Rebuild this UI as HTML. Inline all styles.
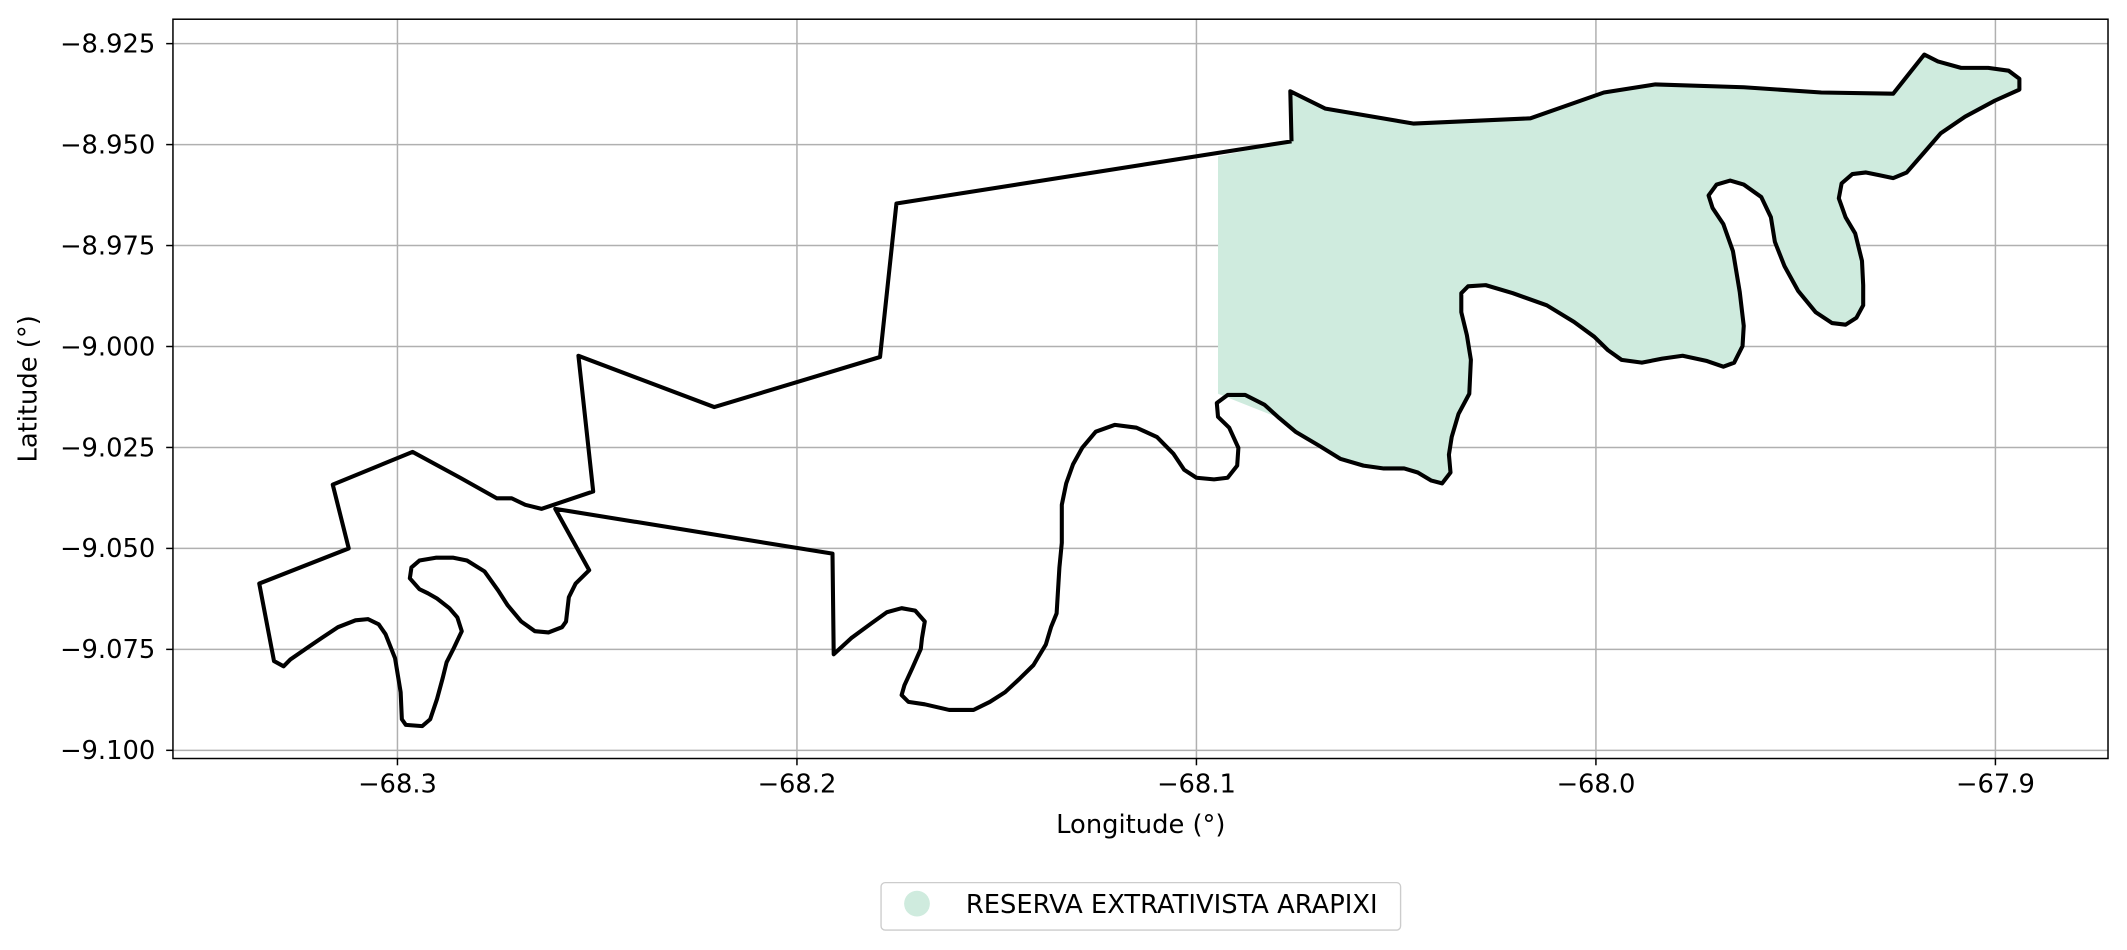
<!DOCTYPE html>
<html><head><meta charset="utf-8"><style>
html,body{margin:0;padding:0;background:#fff;}
svg{display:block;font-family:"DejaVu Sans","Liberation Sans",sans-serif;}
</style></head><body>
<svg id="chart" width="2127" height="950" viewBox="0 0 1568 700" xmlns="http://www.w3.org/2000/svg"></svg>
<script>
const lons=[-68.0762,-68.0765,-68.0677,-68.0456,-68.0164,-67.998,-67.9851,-67.963,-67.9436,-67.9256,-67.9178,-67.9144,-67.9086,-67.9018,-67.8967,-67.894,-67.894,-67.9001,-67.9076,-67.9137,-67.9178,-67.9222,-67.9256,-67.929,-67.9324,-67.9358,-67.9385,-67.9392,-67.9375,-67.9351,-67.9334,-67.9331,-67.9331,-67.9348,-67.9375,-67.9409,-67.945,-67.9494,-67.9528,-67.9552,-67.9562,-67.9586,-67.963,-67.9664,-67.9698,-67.9718,-67.9708,-67.9681,-67.9657,-67.964,-67.963,-67.9633,-67.9654,-67.9681,-67.9722,-67.9783,-67.9834,-67.9885,-67.9936,-67.997,-68.0004,-68.0055,-68.0123,-68.0208,-68.0276,-68.032,-68.0337,-68.0337,-68.0323,-68.0313,-68.0317,-68.0344,-68.0361,-68.0368,-68.0364,-68.0385,-68.0412,-68.0446,-68.048,-68.0531,-68.0582,-68.064,-68.0694,-68.0752,-68.0793,-68.083,-68.0878,-68.0922,-68.0949,-68.0946,-68.0918,-68.0895,-68.0898,-68.0922,-68.0956,-68.1,-68.1031,-68.1058,-68.1099,-68.115,-68.1204,-68.1252,-68.1286,-68.1309,-68.1326,-68.1337,-68.1337,-68.1343,-68.135,-68.1364,-68.1377,-68.1408,-68.1442,-68.1479,-68.1517,-68.1558,-68.1619,-68.168,-68.1721,-68.1738,-68.1731,-68.1711,-68.169,-68.1687,-68.168,-68.1704,-68.1738,-68.1775,-68.1813,-68.1864,-68.1908,-68.1911,-68.2605,-68.252,-68.2554,-68.2571,-68.2578,-68.2588,-68.2622,-68.2656,-68.269,-68.2724,-68.2748,-68.2782,-68.2826,-68.286,-68.2904,-68.2945,-68.2965,-68.2969,-68.2945,-68.2924,-68.2901,-68.287,-68.285,-68.2839,-68.286,-68.2877,-68.2887,-68.2901,-68.2918,-68.2938,-68.2979,-68.2989,-68.2992,-68.3006,-68.303,-68.3047,-68.3074,-68.3105,-68.3149,-68.319,-68.3224,-68.3268,-68.3285,-68.3309,-68.3346,-68.3122,-68.3162,-68.2962,-68.2843,-68.2751,-68.2714,-68.268,-68.2639,-68.251,-68.2547,-68.2207,-68.1792,-68.1751,-68.0762];
const lats=[-8.9492,-8.9368,-8.9411,-8.9448,-8.9435,-8.9371,-8.9351,-8.9358,-8.9371,-8.9374,-8.9277,-8.9294,-8.931,-8.931,-8.9317,-8.9337,-8.9364,-8.9391,-8.9431,-8.9472,-8.9519,-8.9569,-8.9583,-8.9576,-8.9569,-8.9573,-8.9596,-8.9633,-8.968,-8.972,-8.9788,-8.9848,-8.9898,-8.9929,-8.9946,-8.9942,-8.9915,-8.9862,-8.9801,-8.9741,-8.968,-8.963,-8.9599,-8.9589,-8.9599,-8.9626,-8.9657,-8.9697,-8.9764,-8.9865,-8.9949,-8.9999,-9.004,-9.005,-9.0036,-9.0023,-9.003,-9.004,-9.0033,-9.0009,-8.9976,-8.9939,-8.9898,-8.9868,-8.9848,-8.9851,-8.9868,-8.9915,-8.9972,-9.0033,-9.0117,-9.0167,-9.0224,-9.0268,-9.0312,-9.0339,-9.0332,-9.0312,-9.0302,-9.0302,-9.0295,-9.0278,-9.0245,-9.0211,-9.0177,-9.0144,-9.012,-9.012,-9.014,-9.0174,-9.0201,-9.0251,-9.0295,-9.0325,-9.0329,-9.0325,-9.0305,-9.0265,-9.0224,-9.0201,-9.0194,-9.0211,-9.0251,-9.0292,-9.0339,-9.0392,-9.0486,-9.0547,-9.0661,-9.0695,-9.0738,-9.0789,-9.0822,-9.0856,-9.088,-9.09,-9.09,-9.0886,-9.088,-9.0863,-9.0839,-9.0796,-9.0749,-9.0722,-9.0681,-9.0654,-9.0648,-9.0658,-9.0685,-9.0722,-9.0762,-9.0513,-9.0402,-9.0554,-9.0587,-9.0621,-9.0681,-9.0695,-9.0708,-9.0705,-9.0681,-9.0641,-9.0604,-9.0557,-9.053,-9.0523,-9.0523,-9.053,-9.0547,-9.0574,-9.0601,-9.0611,-9.0624,-9.0648,-9.0671,-9.0705,-9.0749,-9.0782,-9.0822,-9.0873,-9.0923,-9.094,-9.0937,-9.0923,-9.0856,-9.0772,-9.0712,-9.0688,-9.0675,-9.0678,-9.0695,-9.0722,-9.0745,-9.0775,-9.0792,-9.0779,-9.0587,-9.05,-9.0342,-9.0261,-9.0325,-9.0376,-9.0376,-9.0392,-9.0402,-9.0359,-9.0023,-9.015,-9.0026,-8.9646,-8.9492];
const fillCount=85;
const fillExtraLon=[-68.0946,-68.0946];
const fillExtraLat=[-9.0117,-8.9529];
const xTicks=[-68.3,-68.2,-68.1,-68.0,-67.9];
const xTickLabels=["−68.3","−68.2","−68.1","−68.0","−67.9"];
const yTicks=[-8.925,-8.95,-8.975,-9.0,-9.025,-9.05,-9.075,-9.1];
const yTickLabels=["−8.925","−8.950","−8.975","−9.000","−9.025","−9.050","−9.075","−9.100"];

const L=127.5,R=1554,T=14,B=559;
const FS=19;
function xs(v){return 882+(v+68.1)*2945;}
function ys(v){return 32+(-8.925-v)*2977;}
const NS="http://www.w3.org/2000/svg";
const svg=document.getElementById('chart');
function mk(tag,attrs,parent){const e=document.createElementNS(NS,tag);for(const k in attrs)e.setAttribute(k,attrs[k]);(parent||svg).appendChild(e);return e;}

const grid=mk('g',{});


xTicks.forEach((t,i)=>{
  const x=xs(t);
  const gl=mk('line',{x1:x,x2:x,y1:T,y2:B,stroke:'#b0b0b0','stroke-width':1.1},grid);
  
  
  mk('line',{x1:x,x2:x,y1:B,y2:B+5,stroke:'#000','stroke-width':1.1});
  const tx=mk('text',{x:x,y:B+25,'font-size':FS,'text-anchor':'middle',fill:'#000'});
  tx.textContent=xTickLabels[i];
  
  
});
yTicks.forEach((t,i)=>{
  const y=ys(t);
  const gl=mk('line',{x1:L,x2:R,y1:y,y2:y,stroke:'#b0b0b0','stroke-width':1.1},grid);
  
  
  mk('line',{x1:L-5,x2:L,y1:y,y2:y,stroke:'#000','stroke-width':1.1});
  const tx=mk('text',{x:L-13,y:y+6.5,'font-size':FS,'text-anchor':'end',fill:'#000'});
  tx.textContent=yTickLabels[i];
  
  
});

let fp=[];
for(let i=0;i<fillCount;i++)fp.push(xs(lons[i])+','+ys(lats[i]));
fillExtraLon.forEach((v,i)=>fp.push(xs(v)+','+ys(fillExtraLat[i])));
const fill=mk('polygon',{points:fp.join(' '),fill:'#cfebde',stroke:'none'});



const op=lons.map((v,i)=>xs(v)+','+ys(lats[i])).join(' ');
const outline=mk('polyline',{points:op,fill:'none',stroke:'#000','stroke-width':3,'stroke-linejoin':'round'});



const frame=mk('rect',{x:L,y:T,width:R-L,height:B-T,fill:'none',stroke:'#000','stroke-width':1.1});



const xt=mk('text',{x:841,y:614,'font-size':FS,'text-anchor':'middle'});
xt.textContent='Longitude (°)';


const yt=mk('text',{x:0,y:0,'font-size':FS,'text-anchor':'middle',transform:'translate(27,'+((T+B)/2)+') rotate(-90)'});
yt.textContent='Latitude (°)';



const lg=mk('g',{});


mk('rect',{x:649.5,y:650.5,width:383,height:35,rx:3,fill:'#fff',stroke:'#cccccc','stroke-width':1},lg);
const lm=mk('circle',{cx:676,cy:666,r:9.5,fill:'#cfebde'},lg);


const lt=mk('text',{x:712,y:673,'font-size':FS},lg);
lt.textContent='RESERVA EXTRATIVISTA ARAPIXI';


</script>
</body></html>
